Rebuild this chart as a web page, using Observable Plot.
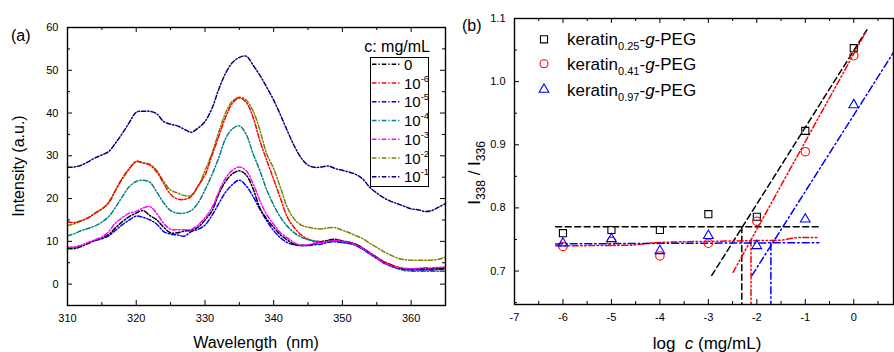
<!DOCTYPE html>
<html><head><meta charset="utf-8">
<script src="https://cdn.jsdelivr.net/npm/d3@7"></script>
<script src="https://cdn.jsdelivr.net/npm/@observablehq/plot@0.6"></script>
<style>
body{margin:0;background:#fff;}
#wrap{position:relative;width:894px;height:352px;overflow:hidden;font-family:"Liberation Sans",Arial,sans-serif;background:#fff;}
#wrap > svg{position:absolute;top:0;}
</style></head><body><div id="wrap"></div>
<script>
// ---------- Panel (a) data ----------
const wavelength = [310,311,312,313,314,315,316,317,318,319,320,321,322,323,324,325,326,327,328,329,330,331,332,333,334,335,336,337,338,339,340,341,342,343,344,345,346,347,348,349,350,351,352,353,354,355,356,357,358,359,360,361,362,363,364,365];
const seriesNames = ["0","1e-6","1e-5","1e-4","1e-3","1e-2","1e-1"];
const seriesExp = ["", "-6", "-5", "-4", "-3", "-2", "-1"];
const seriesColors = ["#000000","#ff0000","#0000ff","#008080","#ff00ff","#808000","#000080"];
const I_0 = [8.3,8.3,8.8,9.5,10.2,10.8,11.6,13.2,14.6,15.8, 16.6,17.2,16.0,15.0,13.3,12.0,12.0,12.4,12.6,13.3, 15.0,17.0,21.0,24.0,25.8,26.5,25.5,22.3,17.8,15.2, 13.3,11.5,10.3,9.3,9.1,9.1,9.5,9.9,10.3,10.5, 10.1,9.8,9.3,8.4,7.3,6.2,5.2,4.5,3.9,3.6, 3.5,3.6,3.6,3.6,3.7,3.8];
const I_1e6 = [14.5,14.4,14.8,15.5,16.6,17.6,19.0,22.0,24.8,27.0, 28.7,28.3,27.8,26.2,23.5,21.0,19.9,19.8,20.5,23.0, 25.5,30.0,34.5,39.0,42.3,43.5,42.5,39.0,33.5,28.9, 24.5,20.0,15.6,13.2,11.5,10.5,10.0,10.0,10.1,10.3, 10.0,9.8,9.3,8.3,7.3,6.3,5.3,4.6,4.0,3.6, 3.5,3.5,3.5,3.6,3.7,3.8];
const I_1e5 = [8.5,8.6,9.0,9.6,10.2,10.6,11.3,12.6,13.9,15.0, 15.9,15.6,15.0,14.0,12.3,11.7,11.5,11.2,12.3,12.8, 13.8,16.0,18.8,21.5,23.3,24.3,23.0,20.5,17.5,14.8, 12.5,10.8,9.7,9.2,9.0,9.0,9.2,9.4,9.8,9.9, 9.7,9.5,9.0,8.1,7.1,6.0,5.0,4.3,3.8,3.5, 3.3,3.3,3.3,3.3,3.4,3.5];
const I_1e4 = [11.3,11.8,12.5,13.0,13.6,14.5,15.8,18.0,20.5,22.8, 24.0,24.3,23.8,21.5,19.0,17.2,16.6,16.6,17.2,19.0, 22.0,25.5,29.5,34.0,36.3,37.0,35.0,30.5,26.5,22.0, 18.5,15.6,13.5,12.0,11.0,10.4,10.1,9.9,10.0,10.0, 9.8,9.6,9.1,8.2,7.0,6.0,5.0,4.2,3.6,3.2, 3.0,3.0,3.0,3.0,3.0,3.0];
const I_1e3 = [8.6,8.7,9.1,9.7,10.4,11.0,12.3,14.3,15.6,16.6, 17.0,17.8,18.1,16.5,14.2,12.8,12.7,12.7,12.8,13.8, 15.5,17.8,21.5,24.8,26.6,27.4,26.5,23.5,19.5,16.2, 14.0,12.0,10.8,9.7,9.0,9.2,9.6,9.8,10.0,10.2, 10.0,9.8,9.2,8.3,7.2,6.1,5.1,4.4,3.9,3.7, 3.6,3.7,3.8,3.8,3.9,4.0];
const I_1e2 = [13.7,14.1,14.8,15.5,16.5,17.5,19.2,22.0,24.7,27.0, 28.6,28.4,28.0,26.5,24.0,22.0,21.3,20.7,20.8,22.8, 26.5,30.5,35.5,40.0,42.8,43.7,43.0,40.5,36.0,30.4, 27.0,22.5,17.9,15.2,13.8,13.3,13.0,12.9,13.2,13.2, 12.6,12.0,11.3,10.6,9.5,8.6,7.6,6.8,6.1,5.7, 5.6,5.6,5.6,5.6,5.8,6.3];
const I_1e1 = [27.3,27.4,27.8,28.6,29.5,30.2,31.0,33.0,35.3,37.8, 40.2,40.4,40.4,39.8,38.0,37.4,37.0,36.2,35.5,36.5, 38.0,41.0,45.5,49.3,51.8,53.0,53.3,51.2,48.8,46.0, 43.0,39.5,35.8,32.3,29.5,27.8,27.3,27.4,27.6,27.0, 26.6,26.2,25.6,24.5,22.6,21.3,20.2,19.4,18.8,18.2, 17.6,17.4,17.0,17.2,18.0,18.8];
const seriesValues = [I_0, I_1e6, I_1e5, I_1e4, I_1e3, I_1e2, I_1e1];
const drawOrder = ["1e-1","1e-2","1e-6","1e-4","1e-5","0","1e-3"];

const xMajorA = [310,320,330,340,350,360];
const xMinorA = [315,325,335,345,355];
const yMajorA = [0,10,20,30,40,50,60];
const yMinorA = [5,15,25,35,45,55];

// ---------- Panel (b) data ----------
const logC = [-6,-5,-4,-3,-2,-1,0];
const ratio025 = [0.760,0.765,0.765,0.790,0.786,0.922,1.053];
const ratio041 = [0.739,0.747,0.724,0.744,0.779,0.889,1.041];
const ratio097 = [0.744,0.751,0.732,0.756,0.740,0.782,0.963];
const legendB = [["0.25","square","#000000"],["0.41","circle","#ff0000"],["0.97","triangle","#0000ff"]];
// fitted guide lines: [logc, ratio]
const fit025H = [[-6.15,0.770],[-0.72,0.770]];
const fit025S = [[-2.93,0.693],[0.27,1.082]];
const fit025V = [[-2.31,0.770],[-2.31,0.640]];
const fit041H = [[-6.15,0.740],[-4.6,0.741],[-4.1,0.745],[-2.2,0.748],[-1.5,0.749],[-1.15,0.753],[-0.72,0.753]];
const fit041S = [[-2.49,0.698],[0.26,1.080]];
const fit041V = [[-2.12,0.749],[-2.12,0.640]];
const fit097H = [[-6.15,0.743],[-0.72,0.745]];
const fit097S = [[-2.10,0.693],[0.90,1.056]];
const fit097V = [[-1.71,0.744],[-1.71,0.640]];
const xMajorB = [-7,-6,-5,-4,-3,-2,-1,0];
const xMinorB = [-6.5,-5.5,-4.5,-3.5,-2.5,-1.5,-0.5,0.5];
const yMajorB = [0.7,0.8,0.9,1.0,1.1];
const yMinorB = [0.65,0.75,0.85,0.95,1.05];

const FONT = '"Liberation Sans", Arial, sans-serif';
const wrap = document.getElementById("wrap");

// ---------- Panel (a) ----------
const rowsA = [];
seriesNames.forEach((s, i) => seriesValues[i].forEach((v, j) => rowsA.push({w: wavelength[j], v, s, o: drawOrder.indexOf(s)})));
rowsA.sort((a, b) => a.o - b.o);
const HA = 352, MTa = 27, MBa = 47, MLa = 67, MRa = 5, WA = 450;
const fhA = HA - MTa - MBa, fwA = WA - MLa - MRa;
const plotA = Plot.plot({
  width: WA, height: HA, marginLeft: MLa, marginRight: MRa, marginTop: MTa, marginBottom: MBa,
  style: {fontFamily: FONT, fontSize: "11px", color: "#000", background: "transparent", overflow: "visible"},
  x: {domain: [310, 365], ticks: xMajorA, tickSize: 0, tickPadding: 9, tickFormat: d => String(d), label: null},
  y: {domain: [-5, 60], ticks: yMajorA, tickSize: 0, tickPadding: 9, tickFormat: d => String(d), label: null},
  color: {domain: seriesNames, range: seriesColors},
  marks: [
    Plot.line(rowsA, {x: "w", y: "v", z: "s", stroke: "s", strokeWidth: 1.5, strokeDasharray: "4.5,2,1.3,2", curve: "catmull-rom"}),
    Plot.tickX(xMajorA, {x: d => d, insetTop: fhA - 5, stroke: "#000"}),
    Plot.tickX(xMinorA, {x: d => d, insetTop: fhA - 3, stroke: "#000"}),
    Plot.tickX(xMajorA, {x: d => d, insetBottom: fhA - 5, stroke: "#000"}),
    Plot.tickX(xMinorA, {x: d => d, insetBottom: fhA - 3, stroke: "#000"}),
    Plot.tickY(yMajorA, {y: d => d, insetRight: fwA - 5, stroke: "#000"}),
    Plot.tickY(yMinorA, {y: d => d, insetRight: fwA - 3, stroke: "#000"}),
    Plot.tickY(yMajorA, {y: d => d, insetLeft: fwA - 5, stroke: "#000"}),
    Plot.tickY(yMinorA, {y: d => d, insetLeft: fwA - 3, stroke: "#000"}),
    Plot.frame({stroke: "#000", strokeWidth: 1.4})
  ]
});
plotA.style.left = "0px";
wrap.appendChild(plotA);

// ---------- Panel (b) ----------
const HB = 352, MTb = 18, MBb = 48, MLb = 64, MRb = 1, WB = 444;
const fhB = HB - MTb - MBb, fwB = WB - MLb - MRb;
const pts = (xs, ys) => xs.map((x, i) => ({x, y: ys[i]}));
const lineOpts = (stroke, dash) => ({x: d => d[0], y: d => d[1], stroke, strokeWidth: 1.5, strokeDasharray: dash, clip: true});
const dashK = "6,3.5", dashR = "6,2.5,1.5,2.5,1.5,2.5", dashB = "7,3,1.5,3";
const plotB = Plot.plot({
  width: WB, height: HB, marginLeft: MLb, marginRight: MRb, marginTop: MTb, marginBottom: MBb,
  style: {fontFamily: FONT, fontSize: "11px", color: "#000", background: "transparent", overflow: "visible"},
  x: {domain: [-7, 0.82], ticks: xMajorB, tickSize: 0, tickPadding: 9, tickFormat: d => String(d), label: null},
  y: {domain: [0.647, 1.1], ticks: yMajorB, tickSize: 0, tickPadding: 9, tickFormat: d3.format(".1f"), label: null},
  marks: [
    Plot.line(fit025H, lineOpts("#000", dashK)),
    Plot.line(fit025S, lineOpts("#000", dashK)),
    Plot.line(fit025V, lineOpts("#000", dashK)),
    Plot.line(fit041H, {...lineOpts("#ff0000", dashR), curve: "monotone-x"}),
    Plot.line(fit041S, lineOpts("#ff0000", dashR)),
    Plot.line(fit041V, lineOpts("#ff0000", dashR)),
    Plot.line(fit097H, lineOpts("#0000ff", dashB)),
    Plot.line(fit097S, lineOpts("#0000ff", dashB)),
    Plot.line(fit097V, lineOpts("#0000ff", dashB)),
    Plot.dot(pts(logC, ratio025), {x: "x", y: "y", symbol: "square", r: 4, stroke: "#000", fill: "none", strokeWidth: 1.1}),
    Plot.dot(pts(logC, ratio041), {x: "x", y: "y", symbol: "circle", r: 4.2, stroke: "#ff0000", fill: "none", strokeWidth: 1.1}),
    Plot.dot(pts(logC, ratio097), {x: "x", y: "y", symbol: "triangle", r: 3.6, stroke: "#0000ff", fill: "none", strokeWidth: 1.1}),
    Plot.tickX(xMajorB, {x: d => d, insetTop: fhB - 5, stroke: "#000"}),
    Plot.tickX(xMinorB, {x: d => d, insetTop: fhB - 3, stroke: "#000"}),
    Plot.tickX(xMajorB, {x: d => d, insetBottom: fhB - 5, stroke: "#000"}),
    Plot.tickX(xMinorB, {x: d => d, insetBottom: fhB - 3, stroke: "#000"}),
    Plot.tickY(yMajorB, {y: d => d, insetRight: fwB - 5, stroke: "#000"}),
    Plot.tickY(yMinorB, {y: d => d, insetRight: fwB - 3, stroke: "#000"}),
    Plot.frame({stroke: "#000", strokeWidth: 1.4})
  ]
});
plotB.style.left = "450px";
wrap.appendChild(plotB);

// ---------- Overlay: titles, axis labels, legends ----------
const ov = d3.select(wrap).append("svg").attr("width", 894).attr("height", 352)
  .style("left", "0px").style("font-family", FONT).style("pointer-events", "none");

ov.append("text").attr("x", 11).attr("y", 41).attr("font-size", 16).text("(a)");
ov.append("text").attr("transform", "translate(24,166) rotate(-90)").attr("text-anchor", "middle").attr("font-size", 16).text("Intensity (a.u.)");
ov.append("text").attr("x", 256).attr("y", 348).attr("text-anchor", "middle").attr("font-size", 16).style("white-space", "pre").text("Wavelength  (nm)");

// legend (a)
ov.append("text").attr("x", 430).attr("y", 52).attr("text-anchor", "end").attr("font-size", 16).text("c: mg/mL");
ov.append("rect").attr("x", 370.5).attr("y", 57.5).attr("width", 58).attr("height", 129).attr("fill", "#fff").attr("stroke", "#000").attr("stroke-width", 1);
seriesNames.forEach((s, i) => {
  const y = 64.3 + i * 18.75;
  ov.append("line").attr("x1", 372).attr("x2", 400).attr("y1", y).attr("y2", y)
    .attr("stroke", seriesColors[i]).attr("stroke-width", 1.5).attr("stroke-dasharray", "4.5,2,1.3,2");
  const t = ov.append("text").attr("x", 404).attr("y", y + 5.5).attr("font-size", 15);
  if (seriesExp[i] === "") t.text("0");
  else {
    t.append("tspan").text("10");
    t.append("tspan").attr("dy", -7).attr("font-size", 9.5).text(seriesExp[i]);
  }
});

// panel (b) labels
ov.append("text").attr("x", 462).attr("y", 31).attr("font-size", 16).text("(b)");
const yl = ov.append("text").attr("transform", "translate(480,173) rotate(-90)").attr("text-anchor", "middle").attr("font-size", 17);
yl.append("tspan").text("I");
yl.append("tspan").attr("dy", 5).attr("font-size", 12).text("338");
yl.append("tspan").attr("dy", -5).text(" / I");
yl.append("tspan").attr("dy", 5).attr("font-size", 12).text("336");
const xl = ov.append("text").attr("x", 707).attr("y", 349).attr("text-anchor", "middle").attr("font-size", 17).style("white-space", "pre");
xl.append("tspan").text("log  ");
xl.append("tspan").attr("font-style", "italic").text("c");
xl.append("tspan").text(" (mg/mL)");

// legend (b)
const sym = {square: d3.symbolSquare, circle: d3.symbolCircle, triangle: d3.symbolTriangle};
legendB.forEach(([sub, s, c], i) => {
  const y = [39.3, 63.8, 89.5][i];
  const r = s === "triangle" ? 3.6 : 4;
  ov.append("path").attr("d", d3.symbol(sym[s], Math.PI * r * r)()).attr("transform", `translate(544,${y})`)
    .attr("fill", "none").attr("stroke", c).attr("stroke-width", 1.1);
  const t = ov.append("text").attr("x", 567).attr("y", y + 6).attr("font-size", 17);
  t.append("tspan").text("keratin");
  t.append("tspan").attr("dy", 5).attr("font-size", 11).text(sub);
  t.append("tspan").attr("dy", -5).text("-");
  t.append("tspan").attr("font-style", "italic").text("g");
  t.append("tspan").text("-PEG");
});
</script></body></html>
